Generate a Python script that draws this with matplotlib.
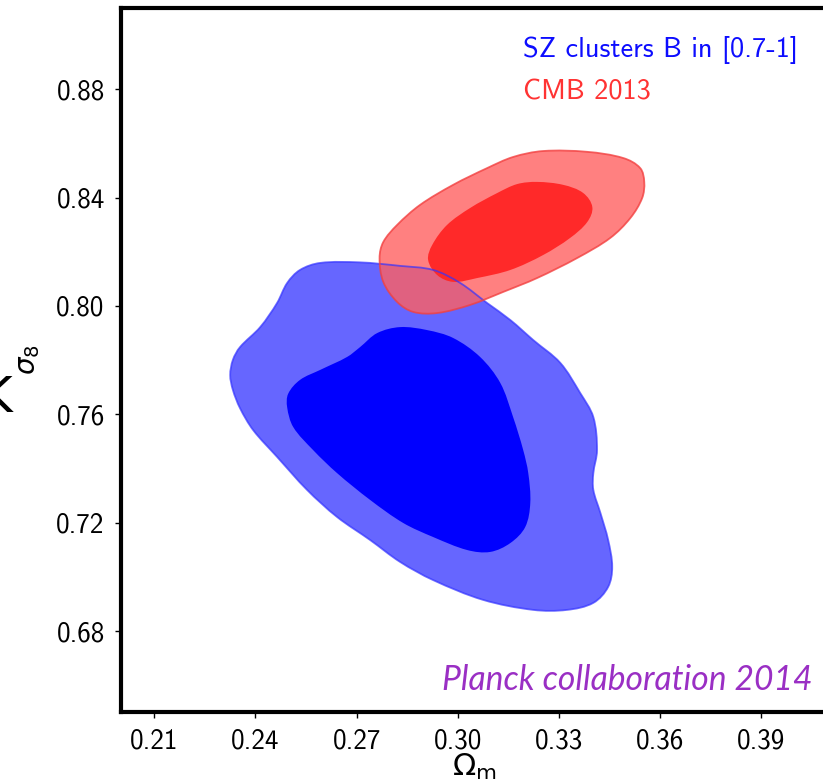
import numpy as np
import matplotlib
matplotlib.use("Agg")
import matplotlib.pyplot as plt
from matplotlib.path import Path
from matplotlib.patches import PathPatch

# ---------------- data ----------------
x_ticks = [0.21, 0.24, 0.27, 0.30, 0.33, 0.36, 0.39]
x_ticklabels = ["0.21", "0.24", "0.27", "0.30", "0.33", "0.36", "0.39"]
y_ticks = [0.68, 0.72, 0.76, 0.80, 0.84, 0.88]
y_ticklabels = ["0.68", "0.72", "0.76", "0.80", "0.84", "0.88"]

# SZ clusters, 95% contour (Omega_m, sigma_8)
sz_outer_om = [0.2592, 0.2710, 0.2829, 0.2927, 0.3007, 0.3087, 0.3156, 0.3224, 0.3304,
               0.3363, 0.3402, 0.3413, 0.3402, 0.3402, 0.3423, 0.3446, 0.3458, 0.3446,
               0.3402, 0.3324, 0.3224, 0.3075, 0.2927, 0.2829, 0.2740, 0.2642, 0.2553,
               0.2464, 0.2393, 0.2354, 0.2333, 0.2325, 0.2333, 0.2354, 0.2414, 0.2464,
               0.2494, 0.2532]
sz_outer_s8 = [0.8159, 0.8161, 0.8148, 0.8133, 0.8085, 0.8011, 0.7948, 0.7874, 0.7790,
               0.7679, 0.7590, 0.7468, 0.7383, 0.7321, 0.7236, 0.7136, 0.7037, 0.6963,
               0.6904, 0.6878, 0.6878, 0.6915, 0.6988, 0.7055, 0.7136, 0.7221, 0.7321,
               0.7443, 0.7542, 0.7623, 0.7690, 0.7745, 0.7801, 0.7848, 0.7922, 0.8011,
               0.8085, 0.8133]
# SZ clusters, 68% contour
sz_inner_om = [0.2829, 0.2909, 0.2986, 0.3066, 0.3126, 0.3164, 0.3194, 0.3209, 0.3215,
               0.3200, 0.3156, 0.3096, 0.3028, 0.2927, 0.2838, 0.2740, 0.2642, 0.2571,
               0.2512, 0.2494, 0.2497, 0.2532, 0.2592, 0.2672, 0.2710, 0.2761]
sz_inner_s8 = [0.7922, 0.7911, 0.7882, 0.7812, 0.7716, 0.7590, 0.7468, 0.7383, 0.7273,
               0.7184, 0.7125, 0.7092, 0.7099, 0.7147, 0.7199, 0.7284, 0.7383, 0.7468,
               0.7553, 0.7626, 0.7676, 0.7727, 0.7764, 0.7812, 0.7848, 0.7900]
# CMB 2013, 95% contour
cmb_outer_om = [0.3253, 0.3384, 0.3491, 0.3541, 0.3553, 0.3547, 0.3512, 0.3452, 0.3354,
                0.3235, 0.3135, 0.3037, 0.2939, 0.2868, 0.2820, 0.2779, 0.2768, 0.2779,
                0.2820, 0.2888, 0.2986, 0.3087, 0.3164]
cmb_outer_s8 = [0.8572, 0.8569, 0.8546, 0.8509, 0.8458, 0.8399, 0.8325, 0.8251, 0.8177,
                0.8103, 0.8052, 0.8004, 0.7974, 0.7978, 0.8015, 0.8089, 0.8177, 0.8236,
                0.8299, 0.8373, 0.8447, 0.8509, 0.8550]
# CMB 2013, 68% contour
cmb_inner_om = [0.3235, 0.3313, 0.3372, 0.3399, 0.3384, 0.3333, 0.3253, 0.3156, 0.3057,
                0.2986, 0.2939, 0.2912, 0.2924, 0.2968, 0.3037, 0.3117, 0.3176]
cmb_inner_s8 = [0.8458, 0.8447, 0.8417, 0.8365, 0.8310, 0.8251, 0.8188, 0.8133, 0.8103,
                0.8089, 0.8114, 0.8170, 0.8225, 0.8299, 0.8362, 0.8417, 0.8450]

legend_labels = ["SZ clusters B in [0.7-1]", "CMB 2013"]
credit = "Planck collaboration 2014"


def smooth_closed_path(xs, ys, sx, sy):
    """Closed path through the given points, drawn as cubic Beziers whose
    handles follow the local direction (chord-length scaled, no overshoot)."""
    p = np.column_stack([xs, ys]).astype(float)
    q = p * np.array([sx, sy])          # isotropic (pixel-like) space
    n = len(q)
    tang = np.empty_like(q)
    for i in range(n):
        d = q[(i + 1) % n] - q[i - 1]
        tang[i] = d / np.hypot(*d)
    verts = [q[0]]
    codes = [Path.MOVETO]
    for i in range(n):
        a, b = q[i], q[(i + 1) % n]
        L = np.hypot(*(b - a)) / 3.0
        verts += [a + tang[i] * L, b - tang[(i + 1) % n] * L, b]
        codes += [Path.CURVE4] * 3
    verts.append(q[0])
    codes.append(Path.CLOSEPOLY)
    verts = np.array(verts) / np.array([sx, sy])
    return Path(verts, codes)


W, H = 823, 779
fig = plt.figure(figsize=(W / 100, H / 100), dpi=100)
xlim = (0.20, 0.41)
ylim = (0.65, 0.91)
left_px, right_px = 120.6, 828.7
top_px, bot_px = 8.0, 712.3
ax = fig.add_axes([left_px / W, 1 - bot_px / H, (right_px - left_px) / W, (bot_px - top_px) / H])
ax.set_xlim(*xlim)
ax.set_ylim(*ylim)
sx = (right_px - left_px) / (xlim[1] - xlim[0])
sy = (bot_px - top_px) / (ylim[1] - ylim[0])

sz_out = smooth_closed_path(sz_outer_om, sz_outer_s8, sx, sy)
sz_in = smooth_closed_path(sz_inner_om, sz_inner_s8, sx, sy)
cmb_out = smooth_closed_path(cmb_outer_om, cmb_outer_s8, sx, sy)
cmb_in = smooth_closed_path(cmb_inner_om, cmb_inner_s8, sx, sy)

# fills
ax.add_patch(PathPatch(sz_out, facecolor=(0.0, 0.0, 1.0, 0.6), edgecolor="none", zorder=2))
ax.add_patch(PathPatch(sz_in, facecolor=(0.0, 0.0, 1.0), edgecolor="none", zorder=3))
ax.add_patch(PathPatch(cmb_out, facecolor=(1.0, 0.375, 0.375, 0.8), edgecolor="none", zorder=4))
ax.add_patch(PathPatch(cmb_in, facecolor=(1.0, 0.16, 0.16), edgecolor="none", zorder=5))
# edges
ax.add_patch(PathPatch(sz_out, facecolor="none", edgecolor=(0.2, 0.2, 1.0, 0.7), lw=1.3, zorder=6))
ax.add_patch(PathPatch(cmb_out, facecolor="none", edgecolor=(0.95, 0.25, 0.25, 0.8), lw=1.3, zorder=6))

# axes styling
for s in ax.spines.values():
    s.set_linewidth(3.0)
    s.set_color("black")
tick_font = dict(family="cmss10", size=19.5)
ax.set_xticks(x_ticks)
ax.set_xticklabels(x_ticklabels, fontdict=tick_font)
ax.set_yticks(y_ticks)
ax.set_yticklabels(y_ticklabels, fontdict=tick_font)
ax.tick_params(direction="out", length=4.5, width=1.0, pad=7, top=False, right=False)

ax.set_xlabel(r"$\Omega_{\rm m}$", fontsize=22, labelpad=-1)
ax.set_ylabel(r"$\sigma_8$", fontsize=20, labelpad=10)

# legend-like texts
fig.text(522.7 / W, 1 - 57 / H, legend_labels[0], color=(0.05, 0.05, 1.0),
         family="cmss10", fontsize=20.4, ha="left", va="baseline")
fig.text(522.7 / W, 1 - 100 / H, legend_labels[1], color=(1.0, 0.2, 0.2),
         family="cmss10", fontsize=20.4, ha="left", va="baseline")

ct = fig.text(813 / W, 1 - 690 / H, credit, color="#9a2fc4", family="Lato",
              style="italic", fontsize=25, ha="right", va="baseline")
# fit credit width to reference (~370 px)
fig.canvas.draw()
bb = ct.get_window_extent()
ct.set_fontsize(25 * 370.0 / bb.width)

# partial glyph cut at the left edge of the image
fig.text(-21 / W, 1 - 412 / H, "K", fontsize=36, family="DejaVu Sans",
         ha="left", va="baseline", color="black")

fig.savefig("out.png", dpi=100)
